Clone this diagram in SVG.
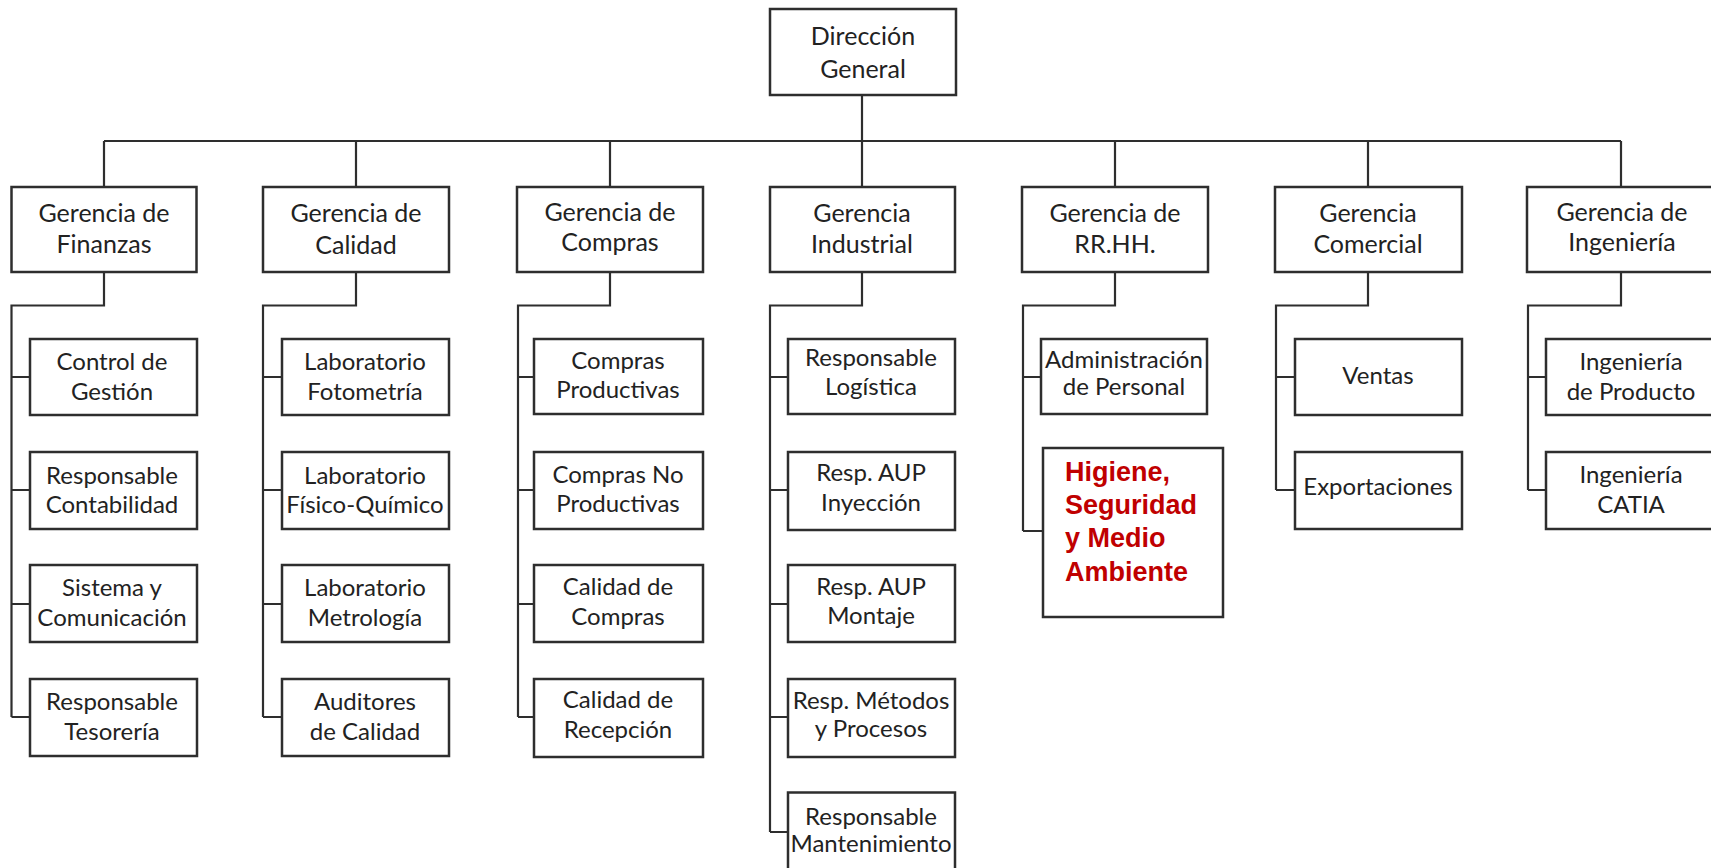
<svg xmlns="http://www.w3.org/2000/svg" width="1711" height="868" viewBox="0 0 1711 868">
  <style>
    .box { fill: #ffffff; stroke: #2e2e2e; stroke-width: 2.5; }
    .link { fill: none; stroke: #2e2e2e; stroke-width: 2.2; }
    .lbl { font-family: Lato, "Open Sans", "Liberation Sans", sans-serif; font-size: 24px; fill: #222222; text-anchor: middle; }
    .mgr { font-size: 25px; }
    .alert { font-family: "Liberation Sans", Arial, sans-serif; font-size: 27px; font-weight: bold; fill: #c00000; }
  </style>
  <rect x="0" y="0" width="1711" height="868" fill="#ffffff"/>

  <!-- connectors -->
  <g id="connectors">
    <path class="link" d="M862,95 V141"/>
    <path class="link" d="M104,141 H1621"/>
    <path class="link" d="M104,141 V187 M356,141 V187 M610,141 V187 M862,141 V187 M1115,141 V187 M1368,141 V187 M1621,141 V187"/>
    <!-- Finanzas -->
    <path class="link" d="M104,272 V305.5 H11.5 V717 M11.5,377 H30 M11.5,490 H30 M11.5,604 H30 M11.5,717 H30"/>
    <!-- Calidad -->
    <path class="link" d="M356,272 V305.5 H263 V717 M263,377 H282 M263,490 H282 M263,604 H282 M263,717 H282"/>
    <!-- Compras -->
    <path class="link" d="M610,272 V305.5 H518 V717 M518,377 H534 M518,490 H534 M518,604 H534 M518,717 H534"/>
    <!-- Industrial -->
    <path class="link" d="M862,272 V305.5 H770 V832 M770,377 H788 M770,490 H788 M770,604 H788 M770,717 H788 M770,832 H788"/>
    <!-- RR.HH. -->
    <path class="link" d="M1115,272 V305.5 H1023 V531 M1023,377 H1041 M1023,531 H1043"/>
    <!-- Comercial -->
    <path class="link" d="M1368,272 V305.5 H1276 V490 M1276,377 H1295 M1276,490 H1295"/>
    <!-- Ingenieria -->
    <path class="link" d="M1621,272 V305.5 H1528 V490 M1528,377 H1546 M1528,490 H1546"/>
  </g>

  <!-- top -->
  <g id="direccion-general">
    <rect class="box" x="770" y="9" width="186" height="86"/>
    <text class="lbl mgr" x="863" y="45">Dirección</text>
    <text class="lbl mgr" x="863" y="78">General</text>
  </g>

  <!-- managers -->
  <g id="gerencia-finanzas">
    <rect class="box" x="11.5" y="187" width="185" height="85"/>
    <text class="lbl mgr" x="104" y="222">Gerencia de</text>
    <text class="lbl mgr" x="104" y="253">Finanzas</text>
  </g>
  <g id="gerencia-calidad">
    <rect class="box" x="263" y="187" width="186" height="85"/>
    <text class="lbl mgr" x="356" y="222">Gerencia de</text>
    <text class="lbl mgr" x="356" y="254">Calidad</text>
  </g>
  <g id="gerencia-compras">
    <rect class="box" x="517" y="187" width="186" height="85"/>
    <text class="lbl mgr" x="610" y="221">Gerencia de</text>
    <text class="lbl mgr" x="610" y="251">Compras</text>
  </g>
  <g id="gerencia-industrial">
    <rect class="box" x="770" y="187" width="185" height="85"/>
    <text class="lbl mgr" x="862" y="222">Gerencia</text>
    <text class="lbl mgr" x="862" y="253">Industrial</text>
  </g>
  <g id="gerencia-rrhh">
    <rect class="box" x="1022" y="187" width="186" height="85"/>
    <text class="lbl mgr" x="1115" y="222">Gerencia de</text>
    <text class="lbl mgr" x="1115" y="253">RR.HH.</text>
  </g>
  <g id="gerencia-comercial">
    <rect class="box" x="1275" y="187" width="187" height="85"/>
    <text class="lbl mgr" x="1368" y="222">Gerencia</text>
    <text class="lbl mgr" x="1368" y="253">Comercial</text>
  </g>
  <g id="gerencia-ingenieria">
    <rect class="box" x="1527" y="187" width="187" height="85"/>
    <text class="lbl mgr" x="1622" y="221">Gerencia de</text>
    <text class="lbl mgr" x="1622" y="251">Ingeniería</text>
  </g>

  <!-- Finanzas units -->
  <g id="control-gestion">
    <rect class="box" x="30" y="339" width="167" height="76"/>
    <text class="lbl" x="112" y="370">Control de</text>
    <text class="lbl" x="112" y="400">Gestión</text>
  </g>
  <g id="resp-contabilidad">
    <rect class="box" x="30" y="452" width="167" height="77"/>
    <text class="lbl" x="112" y="484">Responsable</text>
    <text class="lbl" x="112" y="513">Contabilidad</text>
  </g>
  <g id="sistema-comunicacion">
    <rect class="box" x="30" y="565" width="167" height="77"/>
    <text class="lbl" x="112" y="596">Sistema y</text>
    <text class="lbl" x="112" y="626">Comunicación</text>
  </g>
  <g id="resp-tesoreria">
    <rect class="box" x="30" y="679" width="167" height="77"/>
    <text class="lbl" x="112" y="710">Responsable</text>
    <text class="lbl" x="112" y="740">Tesorería</text>
  </g>

  <!-- Calidad units -->
  <g id="lab-fotometria">
    <rect class="box" x="282" y="339" width="167" height="76"/>
    <text class="lbl" x="365" y="370">Laboratorio</text>
    <text class="lbl" x="365" y="400">Fotometría</text>
  </g>
  <g id="lab-fisico-quimico">
    <rect class="box" x="282" y="452" width="167" height="77"/>
    <text class="lbl" x="365" y="484">Laboratorio</text>
    <text class="lbl" x="365" y="513">Físico-Químico</text>
  </g>
  <g id="lab-metrologia">
    <rect class="box" x="282" y="565" width="167" height="77"/>
    <text class="lbl" x="365" y="596">Laboratorio</text>
    <text class="lbl" x="365" y="626">Metrología</text>
  </g>
  <g id="auditores-calidad">
    <rect class="box" x="282" y="679" width="167" height="77"/>
    <text class="lbl" x="365" y="710">Auditores</text>
    <text class="lbl" x="365" y="740">de Calidad</text>
  </g>

  <!-- Compras units -->
  <g id="compras-productivas">
    <rect class="box" x="534" y="339" width="169" height="75"/>
    <text class="lbl" x="618" y="369">Compras</text>
    <text class="lbl" x="618" y="398">Productivas</text>
  </g>
  <g id="compras-no-productivas">
    <rect class="box" x="534" y="452" width="169" height="77"/>
    <text class="lbl" x="618" y="483">Compras No</text>
    <text class="lbl" x="618" y="512">Productivas</text>
  </g>
  <g id="calidad-compras">
    <rect class="box" x="534" y="565" width="169" height="77"/>
    <text class="lbl" x="618" y="595">Calidad de</text>
    <text class="lbl" x="618" y="625">Compras</text>
  </g>
  <g id="calidad-recepcion">
    <rect class="box" x="534" y="679" width="169" height="78"/>
    <text class="lbl" x="618" y="708">Calidad de</text>
    <text class="lbl" x="618" y="738">Recepción</text>
  </g>

  <!-- Industrial units -->
  <g id="resp-logistica">
    <rect class="box" x="788" y="339" width="167" height="75"/>
    <text class="lbl" x="871" y="366">Responsable</text>
    <text class="lbl" x="871" y="395">Logística</text>
  </g>
  <g id="resp-aup-inyeccion">
    <rect class="box" x="788" y="452" width="167" height="78"/>
    <text class="lbl" x="871" y="481">Resp. AUP</text>
    <text class="lbl" x="871" y="511">Inyección</text>
  </g>
  <g id="resp-aup-montaje">
    <rect class="box" x="788" y="565" width="167" height="77"/>
    <text class="lbl" x="871" y="595">Resp. AUP</text>
    <text class="lbl" x="871" y="624">Montaje</text>
  </g>
  <g id="resp-metodos-procesos">
    <rect class="box" x="788" y="679" width="167" height="78"/>
    <text class="lbl" x="871" y="709">Resp. Métodos</text>
    <text class="lbl" x="871" y="737">y Procesos</text>
  </g>
  <g id="resp-mantenimiento">
    <rect class="box" x="788" y="792.5" width="167" height="80"/>
    <text class="lbl" x="871" y="825">Responsable</text>
    <text class="lbl" x="871" y="852">Mantenimiento</text>
  </g>

  <!-- RR.HH. units -->
  <g id="admin-personal">
    <rect class="box" x="1041" y="339" width="166" height="75"/>
    <text class="lbl" x="1124" y="368">Administración</text>
    <text class="lbl" x="1124" y="395">de Personal</text>
  </g>
  <g id="higiene-seguridad">
    <rect class="box" x="1043" y="448" width="180" height="169"/>
    <text class="alert" x="1065" y="481">Higiene,</text>
    <text class="alert" x="1065" y="514">Seguridad</text>
    <text class="alert" x="1065" y="547">y Medio</text>
    <text class="alert" x="1065" y="581">Ambiente</text>
  </g>

  <!-- Comercial units -->
  <g id="ventas">
    <rect class="box" x="1295" y="339" width="167" height="76"/>
    <text class="lbl" x="1378" y="384">Ventas</text>
  </g>
  <g id="exportaciones">
    <rect class="box" x="1295" y="452" width="167" height="77"/>
    <text class="lbl" x="1378" y="495">Exportaciones</text>
  </g>

  <!-- Ingenieria units -->
  <g id="ing-producto">
    <rect class="box" x="1546" y="339" width="167" height="76"/>
    <text class="lbl" x="1631" y="370">Ingeniería</text>
    <text class="lbl" x="1631" y="400">de Producto</text>
  </g>
  <g id="ing-catia">
    <rect class="box" x="1546" y="452" width="167" height="77"/>
    <text class="lbl" x="1631" y="483">Ingeniería</text>
    <text class="lbl" x="1631" y="513">CATIA</text>
  </g>
</svg>
